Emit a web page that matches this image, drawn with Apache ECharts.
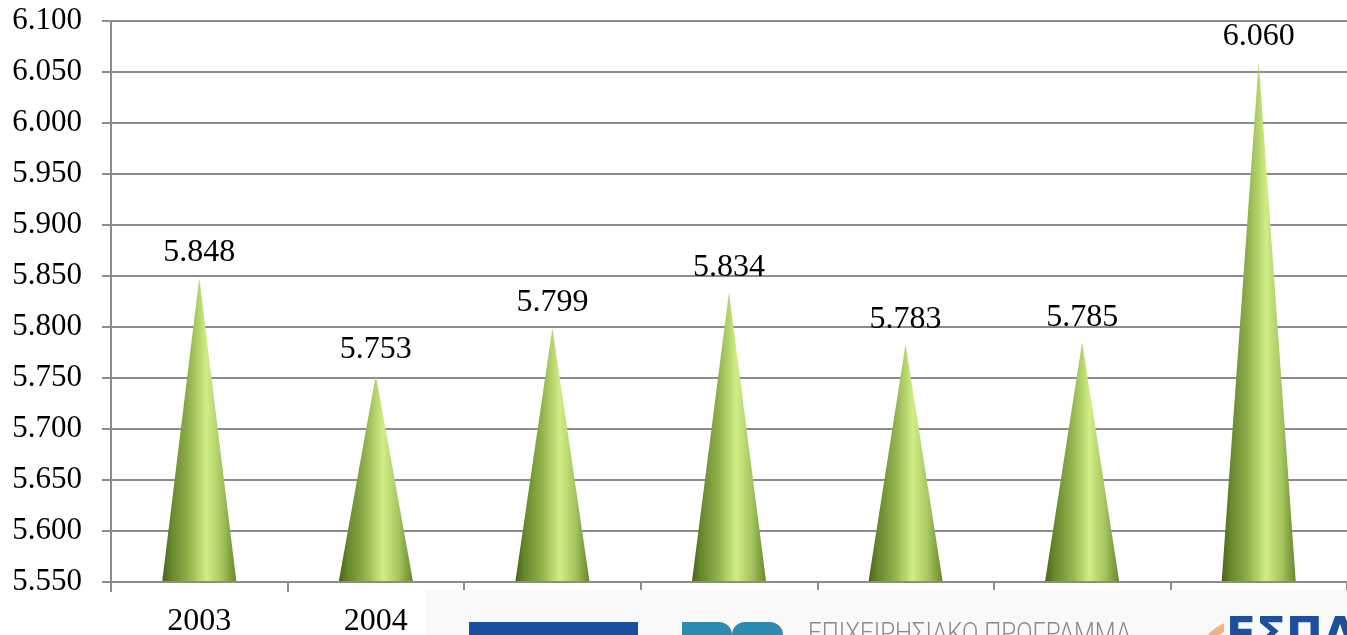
<!DOCTYPE html>
<html>
<head>
<meta charset="utf-8">
<script src="https://cdn.jsdelivr.net/npm/echarts@6/dist/echarts.min.js"></script>
<style>
html,body{margin:0;padding:0;background:#fff;}
#chart{width:1347px;height:635px;}
</style>
</head>
<body>
<div id="chart"></div>
<script>
const categories = ['2003', '2004', '2005', '2006', '2007', '2008', '2009'];
const values = [5848, 5753, 5799, 5834, 5783, 5785, 6060];
const yMin = 5550, yMax = 6100, yStep = 50;
const logoText = 'ΕΠΙΧΕΙΡΗΣΙΑΚΟ ΠΡΟΓΡΑΜΜΑ';
const logoBrand = 'ΕΣΠΑ';

const fmt = v => (v / 1000).toFixed(3);
const serif = '"Liberation Serif", "DejaVu Serif", serif';
const FS = 32;

const chart = echarts.init(document.getElementById('chart'));
const coneColor = new echarts.graphic.LinearGradient(0, 0, 1, 0, [
  { offset: 0, color: '#48651b' },
  { offset: 0.12, color: '#66872b' },
  { offset: 0.35, color: '#8fb04a' },
  { offset: 0.6, color: '#d0ee85' },
  { offset: 0.82, color: '#a2c25d' },
  { offset: 1, color: '#67872b' }
]);

function renderCone(params, api) {
  const idx = api.value(0);
  const v = api.value(1);
  const top = api.coord([idx, v]);
  const base = api.coord([idx, yMin]);
  const hw = 37;
  const pts = [[top[0], top[1]]];
  const n = 12;
  for (let i = 0; i <= n; i++) {
    const t = i / n;
    const x = base[0] + hw - 2 * hw * t;
    const y = base[1] + 1 - 2 * Math.sin(Math.PI * t);
    pts.push([x, Math.min(y, base[1] - 1)]);
  }
  return {
    type: 'polygon',
    shape: { points: pts },
    style: { fill: coneColor },
    textContent: {
      style: { text: fmt(v), fontFamily: serif, fontSize: FS, fill: '#000' }
    },
    textConfig: { position: 'top', distance: 9 }
  };
}

chart.setOption({
  animation: false,
  grid: { left: 111, right: 0, top: 21, bottom: 53, containLabel: false, outerBoundsMode: 'none' },
  xAxis: {
    type: 'category',
    data: categories,
    axisLine: { lineStyle: { color: '#8c8c8c', width: 2 } },
    axisTick: { show: true, length: 10, lineStyle: { color: '#8c8c8c', width: 2 } },
    axisLabel: { color: '#000', fontFamily: serif, fontSize: FS, margin: 24 }
  },
  yAxis: {
    type: 'value',
    min: yMin, max: yMax, interval: yStep,
    axisLine: { show: true, lineStyle: { color: '#8c8c8c', width: 2 } },
    axisTick: { show: true, length: 9, lineStyle: { color: '#8c8c8c', width: 2 } },
    splitLine: { lineStyle: { color: '#8c8c8c', width: 2 } },
    axisLabel: { color: '#000', fontFamily: serif, fontSize: 31, margin: 29, formatter: fmt }
  },
  series: [{
    type: 'custom',
    data: values.map((v, i) => [i, v]),
    encode: { x: 0, y: 1 },
    renderItem: renderCone,
    z: 5
  }],
  graphic: [
    { type: 'rect', z: 100, shape: { x: 425, y: 590, width: 922, height: 45 }, style: { fill: '#f9f9f9' } },
    { type: 'rect', z: 101, shape: { x: 469, y: 622, width: 169, height: 13 }, style: { fill: '#1b4f9f' } },
    { type: 'rect', z: 101, shape: { x: 682, y: 622, width: 50, height: 13, r: [0, 14, 0, 0] }, style: { fill: '#2b8bb2' } },
    { type: 'rect', z: 101, shape: { x: 732, y: 622, width: 51, height: 13, r: [16, 16, 0, 0] }, style: { fill: '#2b8bb2' } },
    { type: 'text', z: 101, x: 808, y: 621, scaleX: 0.86, style: { text: logoText, fontFamily: 'Roboto', fontWeight: 300, fontSize: 28, fill: '#8a8a8a' } },
    { type: 'ring', z: 101, shape: { cx: 1240, cy: 662, r: 42, r0: 34 }, style: { fill: '#f6b078' } },
    { type: 'rect', z: 102, shape: { x: 1224, y: 610, width: 123, height: 25 }, style: { fill: '#f9f9f9' } },
    { type: 'text', z: 103, x: 1226, y: 616, style: { text: logoBrand, fontFamily: '"DejaVu Sans"', fontWeight: 'bold', fontSize: 44, fill: '#1c4f9e' } }
  ]
});
</script>
</body>
</html>
